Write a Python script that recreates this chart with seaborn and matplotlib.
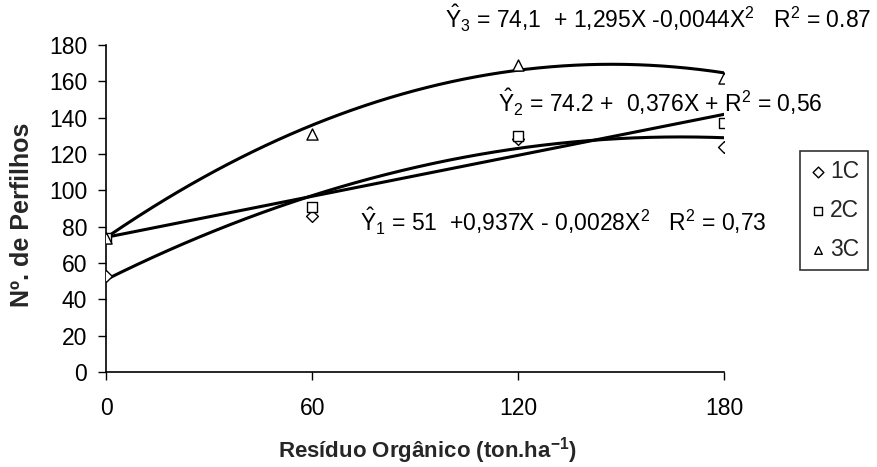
import numpy as np
import pandas as pd
import matplotlib
matplotlib.use("Agg")
import matplotlib.pyplot as plt
import seaborn as sns

# Observed tiller counts per organic residue dose
doses = [0, 60, 120, 180]
c1 = [53, 86, 128, 124]
c2 = [74, 91, 130, 137]
c3 = [74, 131, 169, 162]
series_names = ["1C", "2C", "3C"]

# Regression coefficients (intercept, linear, quadratic)
coef1 = [51, 0.937, -0.0028]
coef2 = [74.2, 0.376, 0.0]
coef3 = [74.1, 1.295, -0.0044]

y_ticks = list(range(0, 181, 20))
x_ticks = doses

sns.set_style("ticks")
plt.rcParams["font.family"] = ["Liberation Sans", "DejaVu Sans"]
plt.rcParams["mathtext.fontset"] = "custom"
plt.rcParams["mathtext.rm"] = "Liberation Sans"
plt.rcParams["mathtext.it"] = "Liberation Sans"
plt.rcParams["mathtext.bf"] = "Liberation Sans:bold"

obs = pd.DataFrame({
    "dose": doses * 3,
    "tillers": c1 + c2 + c3,
    "serie": [s for s in series_names for _ in doses],
})

xs = np.linspace(0, 180, 200)
curves = []
for name, (a, b, c) in zip(series_names, [coef1, coef2, coef3]):
    curves.append(pd.DataFrame({"dose": xs, "tillers": a + b * xs + c * xs ** 2, "serie": name}))
fit = pd.concat(curves, ignore_index=True)

W, H = 878, 467
fig = plt.figure(figsize=(W / 100, H / 100), dpi=100)
ax = fig.add_axes([106.5 / W, 95 / H, 618 / W, 327 / H])

sns.lineplot(data=fit, x="dose", y="tillers", units="serie", estimator=None,
             color="black", linewidth=2.2, ax=ax, legend=False)

markers = {"1C": "D", "2C": "s", "3C": "^"}
sizes = {"1C": 6, "2C": 7, "3C": 8}
for name in series_names:
    sub = obs[obs["serie"] == name]
    sns.scatterplot(data=sub, x="dose", y="tillers", marker=markers[name],
                    s=sizes[name] ** 2, facecolor="white", edgecolor="black",
                    linewidth=1.0, ax=ax, label=name, zorder=3)

FS = 16.5
ax.set_xlim(0, 180)
ax.set_ylim(0, 180)
ax.set_xticks(x_ticks)
ax.set_yticks(y_ticks)
ax.tick_params(axis="both", direction="out", length=6, width=1, color="black",
               labelsize=FS, labelcolor="black")
ax.tick_params(axis="y", pad=8)
ax.tick_params(axis="x", pad=12)
for side in ["top", "right"]:
    ax.spines[side].set_visible(False)
for side in ["left", "bottom"]:
    ax.spines[side].set_color("black")
    ax.spines[side].set_linewidth(1.2)

ax.set_xlabel(r"Resíduo Orgânico (ton.ha$^{\mathbf{-1}}$)", fontsize=16,
              fontweight="bold", va="center")
ax.set_ylabel("Nº. de Perfilhos", fontsize=18, fontweight="bold", va="center")
ax.xaxis.set_label_coords(0.52, (372 - 451) / 327)
ax.yaxis.set_label_coords((22 - 106.5) / 618, (372 - 215) / 327)

eq_kw = dict(fontsize=FS, ha="left", va="center", transform=fig.transFigure,
             color="black")
fig.text(445 / W, 1 - 18 / H,
         r"$\mathrm{\hat{Y}}_3$ = 74,1  + 1,295X -0,0044X$^2$   R$^2$ = 0.87", **eq_kw)
fig.text(498 / W, 1 - 102 / H,
         r"$\mathrm{\hat{Y}}_2$ = 74.2 +  0,376X + R$^2$ = 0,56", **eq_kw)
fig.text(360 / W, 1 - 221 / H,
         r"$\mathrm{\hat{Y}}_1$ = 51  +0,937X - 0,0028X$^2$   R$^2$ = 0,73", **eq_kw)

leg = ax.legend(loc="upper left", bbox_to_anchor=(800 / W, 1 - 151 / H),
                bbox_transform=fig.transFigure, frameon=True, fancybox=False,
                fontsize=FS, handletextpad=0.1, handlelength=0.8,
                borderpad=0.4, labelspacing=0.7, borderaxespad=0)
leg.get_frame().set_edgecolor("black")
leg.get_frame().set_linewidth(1.2)
for h in leg.legend_handles:
    h.set_sizes([30])

fig.savefig("out.png", dpi=100, facecolor="white")
